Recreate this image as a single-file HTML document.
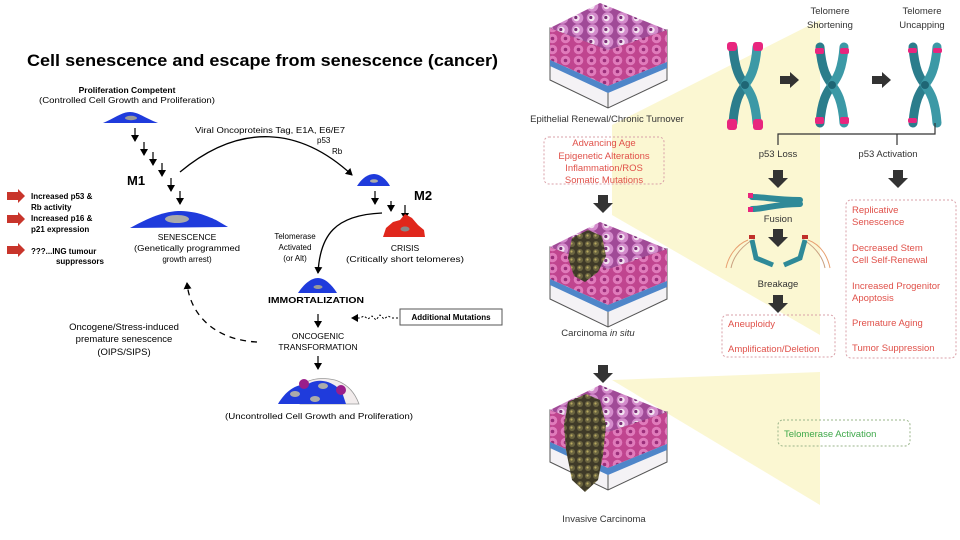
<!DOCTYPE html>
<html><head><meta charset="utf-8"><style>
html,body{margin:0;padding:0;background:#fff;}
svg{display:block;}
text{font-family:"Liberation Sans","DejaVu Sans",sans-serif;}
</style></head><body>
<svg width="960" height="540" viewBox="0 0 960 540" xmlns="http://www.w3.org/2000/svg">
<defs>
<marker id="ah" markerWidth="8" markerHeight="8" refX="6" refY="4" orient="auto" markerUnits="userSpaceOnUse"><path d="M0,0 L7,4 L0,8 Z" fill="#000"/></marker>
<pattern id="cells" width="15" height="12" patternUnits="userSpaceOnUse">
<rect width="15" height="12" fill="#a04a97"/>
<circle cx="7.5" cy="6" r="5.8" fill="#d48ccc"/><circle cx="6.5" cy="6" r="3.2" fill="#f3e3f0"/><circle cx="5.8" cy="5.5" r="1.6" fill="#7a2e78"/>
</pattern>
<pattern id="side" width="13" height="11" patternUnits="userSpaceOnUse">
<rect width="13" height="11" fill="#c0458f"/><circle cx="6.5" cy="5.5" r="4.8" fill="#e07bbb"/><circle cx="6.5" cy="5.5" r="1.8" fill="#9a2e7a"/>
</pattern>
<pattern id="tumor" width="8" height="8" patternUnits="userSpaceOnUse">
<rect width="8" height="8" fill="#3f3a28"/><circle cx="4" cy="4" r="3" fill="#6b6540"/><circle cx="3.5" cy="3.5" r="1.1" fill="#b8a860"/>
</pattern>
<g id="block">
<polygon points="550,80 608,108 667,80 667,30 608,50 550,28" fill="#f4f2f5" stroke="#555" stroke-width="1"/>
<line x1="608" y1="50" x2="608" y2="108" stroke="#555"/>
<polygon points="550,28 608,50 667,30 667,62 608,86 550,60" fill="url(#side)"/>
<polygon points="550,60 608,86 667,62 667,68 608,93 550,66" fill="#4f86c9"/>
<polygon points="550,28 600,3 667,30 608,50" fill="url(#cells)"/>
</g>
<g id="chrom">
<path d="M-12,-38 C-10,-10 -2,-4 0,0 C-2,4 -10,10 -12,38" stroke="#2b7d8c" stroke-width="9" fill="none" stroke-linecap="round"/>
<path d="M12,-38 C10,-10 2,-4 0,0 C2,4 10,10 12,38" stroke="#3c99a6" stroke-width="9" fill="none" stroke-linecap="round"/>
<circle cx="0" cy="0" r="4" fill="#1f6675"/>
</g>
<g id="bigarr"><polygon points="-5,0 5,0 5,8 10,8 0,18 -10,8 -5,8" fill="#333"/></g>
<g id="rarr"><polygon points="0,-4 11,-4 11,-7 18,0 11,7 11,4 0,4" fill="#c8352b"/></g>
</defs>

<polygon points="612,125 820,20 820,335 612,215" fill="#fbf7d2"/>
<polygon points="612,380 820,372 820,505" fill="#fbf7d2"/>

<text x="27" y="66" font-size="17" font-weight="bold" textLength="471" lengthAdjust="spacingAndGlyphs">Cell senescence and escape from senescence (cancer)</text>
<text x="127" y="93" font-size="8.5" font-weight="bold" text-anchor="middle">Proliferation Competent</text>
<text x="127" y="103" font-size="8" text-anchor="middle" textLength="176" lengthAdjust="spacingAndGlyphs">(Controlled Cell Growth and Proliferation)</text>
<path d="M103,123 C115,118 122,112 130,112 C138,112 145,118 158,123 Z" fill="#1f3bdc"/>
<ellipse cx="131" cy="118" rx="6" ry="2.2" fill="#999"/>
<g stroke="#000" stroke-width="1.2" marker-end="url(#ah)">
<line x1="135" y1="128" x2="135" y2="141"/><line x1="144" y1="142" x2="144" y2="155"/><line x1="153" y1="152" x2="153" y2="165"/><line x1="162" y1="163" x2="162" y2="176"/><line x1="171" y1="178" x2="171" y2="191"/><line x1="180" y1="191" x2="180" y2="204"/>
<line x1="375" y1="191" x2="375" y2="204"/><line x1="391" y1="201" x2="391" y2="211"/><line x1="405" y1="205" x2="405" y2="219"/>
<line x1="318" y1="314" x2="318" y2="327"/><line x1="318" y1="356" x2="318" y2="369"/>
</g>
<text x="127" y="185" font-size="13" font-weight="bold">M1</text>
<text x="414" y="200" font-size="13" font-weight="bold">M2</text>
<path d="M130,228 C145,220 160,212 178,211 C195,211 205,215 216,220 L228,227 Z" fill="#1f3bdc"/>
<ellipse cx="177" cy="219" rx="12" ry="4" fill="#aaa"/>
<text x="187" y="240" font-size="8.5" text-anchor="middle">SENESCENCE</text>
<text x="187" y="251" font-size="8" text-anchor="middle" textLength="106" lengthAdjust="spacingAndGlyphs">(Genetically programmed</text>
<text x="187" y="262" font-size="8" text-anchor="middle">growth arrest)</text>
<use href="#rarr" x="7" y="196"/><use href="#rarr" x="7" y="219"/><use href="#rarr" x="7" y="250"/>
<g font-size="8" font-weight="bold">
<text x="31" y="199">Increased p53 &amp;</text><text x="31" y="210">Rb activity</text>
<text x="31" y="221">Increased p16 &amp;</text><text x="31" y="232">p21 expression</text>
<text x="31" y="254">???...ING tumour</text><text x="104" y="264" text-anchor="end">suppressors</text>
</g>
<path d="M180,172 C240,122 300,127 352,175" fill="none" stroke="#000" stroke-width="1.3" marker-end="url(#ah)"/>
<text x="195" y="133" font-size="8" textLength="150" lengthAdjust="spacingAndGlyphs">Viral Oncoproteins Tag, E1A, E6/E7</text>
<text x="317" y="143" font-size="8">p53</text>
<text x="332" y="154" font-size="8">Rb</text>
<path d="M357,186 C362,178 368,174 374,174 C380,174 386,179 390,186 Z" fill="#1f3bdc"/>
<ellipse cx="374" cy="181" rx="4" ry="1.8" fill="#aaa"/>
<path d="M383,237 L386,228 L393,222 L400,220 L405,214 L412,218 L418,225 L424,230 L425,237 Z" fill="#e0271c"/>
<ellipse cx="405" cy="229" rx="4.5" ry="2.5" fill="#888"/>
<text x="405" y="251" font-size="8.5" text-anchor="middle">CRISIS</text>
<text x="405" y="262" font-size="8" text-anchor="middle" textLength="118" lengthAdjust="spacingAndGlyphs">(Critically short telomeres)</text>
<path d="M382,213 C335,215 320,235 318,273" fill="none" stroke="#000" stroke-width="1.3" marker-end="url(#ah)"/>
<text x="295" y="239" font-size="8" text-anchor="middle">Telomerase</text>
<text x="295" y="250" font-size="8" text-anchor="middle">Activated</text>
<text x="295" y="261" font-size="8" text-anchor="middle">(or Alt)</text>
<path d="M298,293 C304,284 311,278 318,278 C325,278 332,285 337,293 Z" fill="#1f3bdc"/>
<ellipse cx="318" cy="287" rx="4.5" ry="2" fill="#999"/>
<text x="316" y="303" font-size="8.5" font-weight="bold" text-anchor="middle" textLength="96" lengthAdjust="spacingAndGlyphs">IMMORTALIZATION</text>
<rect x="400" y="309" width="102" height="16" fill="#fff" stroke="#555" stroke-width="1"/>
<text x="451" y="320" font-size="8" text-anchor="middle" font-weight="bold">Additional Mutations</text>
<path d="M398,318 L392,318 L388,316 L384,319 L380,315 L376,320 L372,316 L368,319 L364,316 L360,318 L352,318" fill="none" stroke="#000" stroke-width="1" stroke-dasharray="2,2" marker-end="url(#ah)"/>
<text x="318" y="339" font-size="8.5" text-anchor="middle">ONCOGENIC</text>
<text x="318" y="350" font-size="8.5" text-anchor="middle">TRANSFORMATION</text>
<path d="M257,342 C215,340 190,315 187,283" fill="none" stroke="#000" stroke-width="1.3" stroke-dasharray="6,5" marker-end="url(#ah)"/>
<text x="124" y="330" font-size="9.5" text-anchor="middle">Oncogene/Stress-induced</text>
<text x="124" y="342" font-size="9.5" text-anchor="middle">premature senescence</text>
<text x="124" y="355" font-size="9.5" text-anchor="middle">(OIPS/SIPS)</text>
<path d="M300,386 C310,378 322,377 335,380 C348,384 355,393 359,404 L300,404 Z" fill="#f2ecec" stroke="#999" stroke-width="0.8"/>
<path d="M278,404 C285,392 295,384 308,384 C318,378 332,380 342,392 L346,404 Z" fill="#1f3bdc"/>
<circle cx="304" cy="384" r="5" fill="#9a1e8a"/><circle cx="341" cy="390" r="5" fill="#9a1e8a"/>
<ellipse cx="295" cy="394" rx="5" ry="3" fill="#aaa"/><ellipse cx="315" cy="399" rx="5" ry="3" fill="#aaa"/><ellipse cx="323" cy="386" rx="5" ry="3" fill="#aaa"/>
<text x="319" y="419" font-size="8" text-anchor="middle" textLength="188" lengthAdjust="spacingAndGlyphs">(Uncontrolled Cell Growth and Proliferation)</text>

<use href="#block"/>
<use href="#block" y="219"/>
<use href="#block" y="382"/>
<polygon points="572,238 588,230 602,236 606,256 598,272 585,282 574,276 568,258" fill="url(#tumor)"/>
<polygon points="568,402 586,394 600,400 606,425 603,455 598,480 585,492 572,480 566,450 564,425" fill="url(#tumor)"/>

<g font-size="9.5" fill="#333" text-anchor="middle">
<text x="607" y="122">Epithelial Renewal/Chronic Turnover</text>
<text x="598" y="336">Carcinoma <tspan font-style="italic">in situ</tspan></text>
<text x="604" y="522">Invasive Carcinoma</text>
<text x="830" y="14">Telomere</text><text x="830" y="28">Shortening</text>
<text x="922" y="14">Telomere</text><text x="922" y="28">Uncapping</text>
<text x="778" y="157">p53 Loss</text><text x="888" y="157">p53 Activation</text>
<text x="778" y="222">Fusion</text><text x="778" y="287">Breakage</text>
</g>
<rect x="544" y="137" width="120" height="47" rx="5" fill="none" stroke="#d9a0a8" stroke-width="1" stroke-dasharray="2,2"/>
<g font-size="9.5" fill="#e0514a" text-anchor="middle">
<text x="604" y="146">Advancing Age</text><text x="604" y="159">Epigenetic Alterations</text>
<text x="604" y="171">Inflammation/ROS</text><text x="604" y="183">Somatic Mutations</text>
</g>
<use href="#bigarr" x="603" y="195"/><use href="#bigarr" x="603" y="365"/>
<use href="#bigarr" x="778" y="170"/><use href="#bigarr" x="898" y="170"/>
<use href="#bigarr" x="778" y="229"/><use href="#bigarr" x="778" y="295"/>
<use href="#chrom" x="745" y="85"/><use href="#chrom" x="832" y="85"/><use href="#chrom" x="925" y="85"/>
<g fill="#e8267e">
<rect x="727" y="42" width="10" height="9" rx="3"/><rect x="753" y="42" width="10" height="9" rx="3"/><rect x="727" y="119" width="10" height="11" rx="3"/><rect x="753" y="119" width="10" height="11" rx="3"/>
<rect x="815" y="48" width="9" height="6" rx="2"/><rect x="840" y="48" width="9" height="6" rx="2"/><rect x="815" y="117" width="9" height="7" rx="2"/><rect x="840" y="117" width="9" height="7" rx="2"/>
<rect x="908" y="48" width="9" height="5" rx="2"/><rect x="933" y="48" width="9" height="5" rx="2"/><rect x="908" y="118" width="9" height="5" rx="2"/>
</g>
<polygon points="780,76 790,76 790,72 799,80 790,88 790,84 780,84" fill="#333"/>
<polygon points="872,76 882,76 882,72 891,80 882,88 882,84 872,84" fill="#333"/>
<path d="M778,145 L778,134 L935,134 L935,123 M897,134 L897,145" fill="none" stroke="#333" stroke-width="1.2"/>
<path d="M752,197 C765,197 775,200 800,200 M752,209 C765,209 775,204 800,204" stroke="#2f8a98" stroke-width="6" fill="none" stroke-linecap="round"/>
<rect x="748" y="193" width="5" height="5" fill="#e8267e"/><rect x="748" y="207" width="5" height="5" fill="#e8267e"/>
<g fill="none" stroke-width="1">
<path d="M748,240 C735,245 728,258 726,268" stroke="#e8a070"/><path d="M752,240 C740,248 733,258 731,268" stroke="#c9a080"/>
<path d="M808,240 C822,245 828,258 830,268" stroke="#e8a070"/><path d="M804,240 C816,248 823,258 825,268" stroke="#c9a080"/>
</g>
<path d="M752,240 L756,258 L773,265" stroke="#2f8a98" stroke-width="5" fill="none"/>
<path d="M805,240 L800,258 L784,265" stroke="#2f8a98" stroke-width="5" fill="none"/>
<rect x="749" y="235" width="6" height="4" fill="#c0302a"/><rect x="802" y="235" width="6" height="4" fill="#c0302a"/>
<rect x="722" y="315" width="113" height="42" rx="5" fill="none" stroke="#d9a0a8" stroke-dasharray="2,2"/>
<rect x="846" y="200" width="110" height="158" rx="5" fill="none" stroke="#d9a0a8" stroke-dasharray="2,2"/>
<rect x="778" y="420" width="132" height="26" rx="5" fill="none" stroke="#9ab48a" stroke-dasharray="2,2"/>
<g font-size="9.5" fill="#e0514a">
<text x="728" y="327">Aneuploidy</text><text x="728" y="352">Amplification/Deletion</text>
<text x="852" y="213">Replicative</text><text x="852" y="225">Senescence</text>
<text x="852" y="251">Decreased Stem</text><text x="852" y="263">Cell Self-Renewal</text>
<text x="852" y="289">Increased Progenitor</text><text x="852" y="301">Apoptosis</text>
<text x="852" y="326">Premature Aging</text><text x="852" y="351">Tumor Suppression</text>
</g>
<text x="784" y="437" font-size="9.5" fill="#3fa84a">Telomerase Activation</text>
</svg>
</body></html>
